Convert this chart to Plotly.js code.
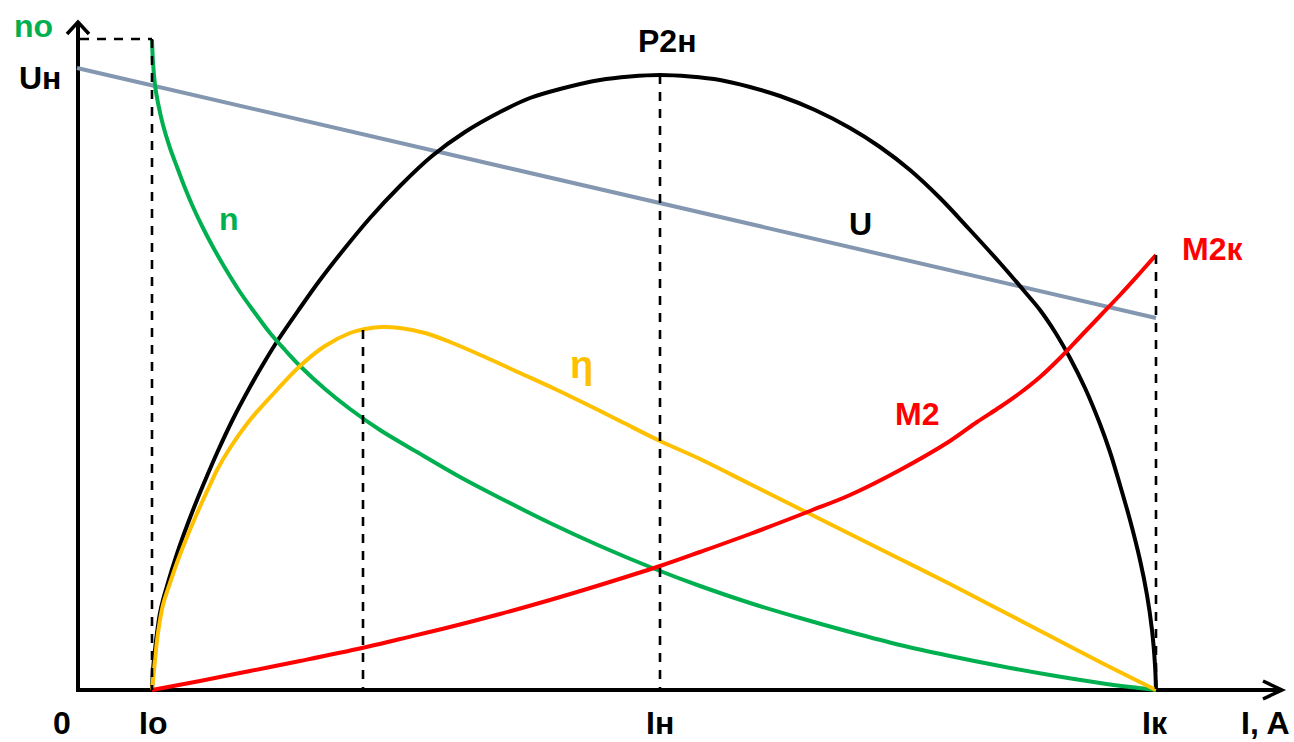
<!DOCTYPE html>
<html>
<head>
<meta charset="utf-8">
<script src="https://cdn.plot.ly/plotly-3.0.1.min.js"></script>
<style>html,body{margin:0;padding:0;background:#fff;}#chart{width:1294px;height:742px;}</style>
</head>
<body>
<div id="chart"></div>
<script>
// Characteristic points on the current axis (chart units, origin at 0)
const I0 = 75, IN = 583, IK = 1079, I_ETA_MAX = 286;
const N0 = 651, U_N = 622, U_K = 372, P2_MAX = 615, ETA_MAX = 360, M2K = 435;

// Speed n(I)
const nX = [75, 76, 78, 81, 86, 93, 100, 108, 116, 126, 136, 148, 163, 178, 193, 208, 223, 248, 273, 303, 340, 383, 423, 473, 523, 578, 623, 673, 723, 773, 823, 873, 923, 973, 1023, 1053, 1079];
const nY = [650, 628, 605, 587, 565, 542, 523, 502, 483, 462, 443, 422, 398, 377, 357, 340, 324, 301, 281, 260, 238, 213, 192, 167, 144, 121, 104, 87, 72, 58, 45, 34, 24, 15, 7, 3, 0];

// Output power P2(I)
const pX = [75, 76, 78, 80, 83, 86, 90, 96, 103, 111, 120, 130, 140, 156, 173, 188, 201, 223, 243, 268, 293, 323, 355, 388, 423, 453, 483, 523, 553, 583, 613, 643, 673, 703, 738, 773, 803, 833, 863, 893, 923, 948, 963, 978, 993, 1008, 1023, 1033, 1043, 1053, 1063, 1070, 1075, 1078, 1079];
const pY = [0, 20, 40, 57, 77, 90, 104, 124, 145, 167, 190, 214, 237, 271, 303, 329, 350, 382, 410, 442, 472, 504, 534, 558, 578, 592, 601, 610, 613.5, 615, 613.5, 610, 603, 594, 580, 562, 543, 520, 492, 460, 427, 398, 380, 358, 332, 302, 266, 238, 205, 170, 130, 95, 60, 25, 0];

// Efficiency eta(I)
const eX = [75, 78, 81, 86, 93, 101, 110, 118, 126, 133, 140, 153, 173, 198, 223, 248, 273, 288, 306, 323, 348, 373, 408, 443, 478, 510, 543, 583, 623, 673, 723, 773, 823, 873, 923, 973, 1023, 1079];
const eY = [0, 30, 57, 85, 107, 130, 153, 172, 190, 205, 220, 242, 270, 298, 324, 344, 357, 361, 363, 362, 357, 348, 333, 317, 301, 285.5, 269, 249, 231, 206, 181, 156, 131, 106, 80, 54, 28, 0];

// Torque M2(I)
const mX = [75, 123, 173, 223, 285, 323, 373, 423, 473, 523, 583, 623, 673, 733, 773, 823, 873, 900, 923, 943, 963, 983, 1003, 1023, 1043, 1063, 1079];
const mY = [0, 9, 19, 29, 42, 51, 63, 76, 90, 105, 124, 138, 156, 179, 195, 220, 249, 268, 283, 297, 313, 332, 353, 374, 395, 417, 435];

// Voltage U(I)
const uX = [0, IK];
const uY = [U_N, U_K];

const W = 4;
const traces = [
  {x: uX, y: uY, mode: 'lines', line: {color: '#8497B0', width: W}},
  {x: pX, y: pY, mode: 'lines', line: {color: '#000000', width: W, shape: 'spline', smoothing: 1}},
  {x: nX, y: nY, mode: 'lines', line: {color: '#00B050', width: W, shape: 'spline', smoothing: 1}},
  {x: eX, y: eY, mode: 'lines', line: {color: '#FFC000', width: W, shape: 'spline', smoothing: 1}},
  {x: mX, y: mY, mode: 'lines', line: {color: '#FF0000', width: W, shape: 'spline', smoothing: 1}}
];

const dash = {color: '#000', width: 2.6, dash: '9px,8px'};
const axisLine = {color: '#000', width: 4};
const shapes = [
  // axes
  {type: 'line', xref: 'x', yref: 'y', x0: 1, y0: -1, x1: 1, y1: 668, line: axisLine, layer: 'below'},
  {type: 'line', xref: 'x', yref: 'y', x0: -1, y0: 0, x1: 1205, y1: 0, line: axisLine, layer: 'below'},
  {type: 'path', xref: 'x', yref: 'y', path: 'M -10,656 L 1,668 L 12,656', line: {color: '#000', width: 3.5}, layer: 'below'},
  {type: 'path', xref: 'x', yref: 'y', path: 'M 1186,9 L 1205,0 L 1186,-9', line: {color: '#000', width: 3.5}, layer: 'below'},
  // dashed guide lines
  {type: 'line', xref: 'x', yref: 'y', x0: 3, y0: N0, x1: I0, y1: N0, line: dash},
  {type: 'line', xref: 'x', yref: 'y', x0: I0, y0: N0, x1: I0, y1: 0, line: dash},
  {type: 'line', xref: 'x', yref: 'y', x0: I_ETA_MAX, y0: ETA_MAX, x1: I_ETA_MAX, y1: 0, line: dash},
  {type: 'line', xref: 'x', yref: 'y', x0: IN, y0: P2_MAX, x1: IN, y1: 0, line: dash},
  {type: 'line', xref: 'x', yref: 'y', x0: IK, y0: M2K, x1: IK, y1: 0, line: dash}
];

const F = 'Liberation Sans, Arial, sans-serif';
function lab(text, x, y, color, size) {
  return {text: '<b>' + text + '</b>', x: x, y: y, xref: 'x', yref: 'y',
          showarrow: false, xanchor: 'center', yanchor: 'middle',
          font: {family: F, size: size || 32, color: color || '#000'}};
}
const annotations = [
  lab('no', -44, 664, '#00B050'),
  lab('Uн', -37, 612),
  lab('0', -15, -33),
  lab('Io', 76, -33),
  lab('Iн', 583, -33),
  lab('Iк', 1078, -33),
  lab('I, A', 1188, -33),
  lab('P2н', 590, 649),
  lab('n', 152, 471, '#00B050'),
  lab('U', 783, 466),
  lab('M2к', 1135, 441, '#FF0000'),
  lab('M2', 840, 276, '#FF0000'),
  lab('η', 504, 325, '#FFC000', 38)
];

const layout = {
  width: 1294, height: 742,
  margin: {l: 0, r: 0, t: 0, b: 0, pad: 0},
  paper_bgcolor: '#fff', plot_bgcolor: '#fff',
  showlegend: false,
  xaxis: {range: [-77, 1217], visible: false, fixedrange: true},
  yaxis: {range: [-52, 690], visible: false, fixedrange: true},
  shapes: shapes,
  annotations: annotations
};

Plotly.newPlot('chart', traces, layout, {staticPlot: true, displayModeBar: false});
</script>
</body>
</html>
